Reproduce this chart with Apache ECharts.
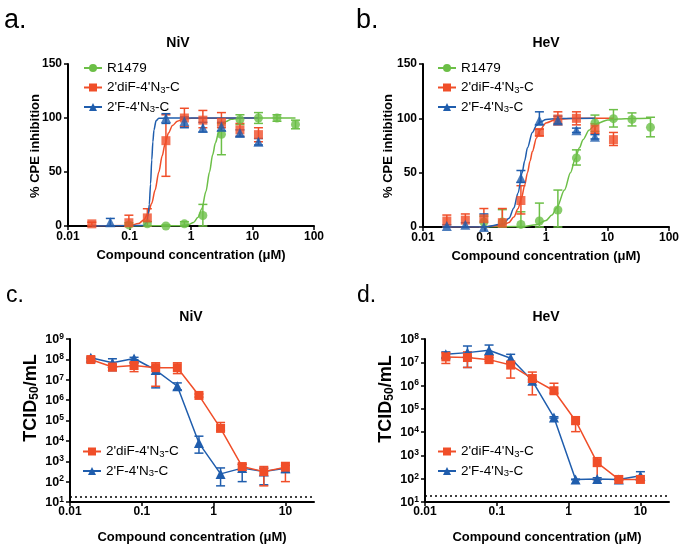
<!DOCTYPE html>
<html>
<head>
<meta charset="utf-8">
<script src="https://cdn.jsdelivr.net/npm/echarts@6/dist/echarts.min.js"></script>
<style>
  html, body { margin: 0; padding: 0; background: #fff; }
  #chart { width: 683px; height: 549px; }
</style>
</head>
<body>
<div id="chart"></div>
<script>
// NiV / HeV antiviral activity — 4 panel figure
var FONT = '"Liberation Sans", Arial, sans-serif';
var GREEN = '#6cbf47', RED = '#f04e29', BLUE = '#1f5dad';
var NAME_R = 'R1479', NAME_DIF = "2'diF-4'N3-C", NAME_F = "2'F-4'N3-C";

// ---- panel a/b: % CPE inhibition, points as [dose µM, mean, low, high]
var nivCPE_R1479 = [[0.0977,1,0,3],[0.195,2,0,4],[0.391,0,0,1],[0.781,2,0,4],[1.56,9.7,0,20],[3.125,85,66,95],[6.25,98.5,94,103],[12.5,100,95,105],[25,100,97,103],[50,94,90,98]];
var nivCPE_diF = [[0.0244,2,0.5,3.5],[0.0977,3,0,10],[0.195,7.5,0,16],[0.391,79,46,103],[0.781,100,92,109],[1.56,98,91,107],[3.125,96,91,105],[6.25,89,83,95],[12.5,84.6,78,91]];
var nivCPE_F = [[0.0488,3.5,0,7],[0.391,100,95,104],[0.781,97,91,101],[1.56,91,87,96],[3.125,92,88,96],[6.25,86,83,89],[12.5,78,75,81]];

var hevCPE_R1479 = [[0.0977,4.5,0,10],[0.195,4.5,0,16],[0.391,2.4,0,14],[0.781,5.5,0,22],[1.56,15.6,0,34],[3.125,63.6,57,71],[6.25,95.8,88,103],[12.5,99.7,92,108],[25,99,93,105],[50,91.7,83,101]];
var hevCPE_diF = [[0.0244,5.5,0,11],[0.0488,6.3,0,12],[0.0977,7.6,0,17],[0.195,4,0,17],[0.391,24.4,12,38],[0.781,87,84,90],[1.56,99.4,94,106],[3.125,100,94,106],[6.25,90,86,95],[12.5,80.4,75,87]];
var hevCPE_F = [[0.0244,1,0,2],[0.0488,2,0,4],[0.0977,0,0,12],[0.391,45,41,52],[0.781,98,94,106],[1.56,98,95,102],[3.125,89,87,91],[6.25,83,81,85]];

// fitted dose-response curves as [dose, %]
var nivFit_R1479 = [[0.0977,0],[0.6,0.2],[0.9,1.2],[1.1,3.3],[1.3,8],[1.5,16],[1.75,32],[2,50],[2.25,66],[2.5,77],[2.8,86],[3.2,93],[3.7,96.8],[4.5,98.9],[6,99.8],[10,100],[50,100]];
var nivFit_diF = [[0.0244,0],[0.1,0.4],[0.14,2.2],[0.17,5.5],[0.2,11.6],[0.23,21],[0.26,33],[0.3,50],[0.34,65],[0.38,76.5],[0.43,86],[0.5,93],[0.6,97],[0.75,99],[1,99.8],[12.5,100]];
var nivFit_F = [[0.0244,0],[0.17,0.4],[0.19,3.3],[0.2,8.7],[0.21,20],[0.22,39],[0.23,61],[0.24,78],[0.25,89],[0.27,97.4],[0.3,99.7],[0.4,100],[12.5,100]];
var hevFit_R1479 = [[0.0977,0],[0.4,0.4],[0.7,2.1],[1,6],[1.25,11],[1.5,17.8],[2,34],[2.5,50],[3,63],[3.5,73],[4,80.4],[5,89],[6,93],[7,95.6],[10,98.5],[15,99.5],[25,99.9],[50,100]];
var hevFit_diF = [[0.0244,0],[0.1,0.1],[0.2,1.6],[0.25,4.2],[0.3,9.1],[0.35,16.7],[0.4,26.8],[0.45,38.4],[0.5,50],[0.55,60.6],[0.6,69.4],[0.7,82],[0.8,89.2],[1,95.8],[1.5,99.3],[3,100],[12.5,100]];
var hevFit_F = [[0.0244,0],[0.1,0.1],[0.2,2.7],[0.25,8],[0.3,17.4],[0.35,31],[0.41,50],[0.45,61],[0.5,73],[0.6,87],[0.7,93.5],[0.8,96.6],[1,98.9],[1.5,99.8],[6.25,100]];

// ---- panel c/d: virus titer (TCID50/mL)
var titerDoses = [0.0195, 0.039, 0.078, 0.156, 0.3125, 0.625, 1.25, 2.5, 5, 10];
var nivTiter_diF    = [9.8e7, 4.2e7, 5.0e7, 3.9e7, 3.9e7, 1.7e6, 4.1e4, 550, 310, 510];
var nivTiter_diF_lo = [8.5e7, 2.8e7, 2.5e7, 4.8e6, 2.0e7, 1.4e6, 3.2e4, 350, 62, 100];
var nivTiter_diF_hi = [1.1e8, 5.6e7, 7.0e7, 6.8e7, 6.8e7, 2.0e6, 8.0e4, 710, 550, 870];
var nivTiter_F      = [1.2e8, 6.8e7, 1.1e8, 3.0e7, 4.8e6, 7.8e3, 240, 460, 310, 450];
var nivTiter_F_lo   = [1.07e8, 2.8e7, 9.5e7, 4.0e6, 3.2e6, 2.5e3, 62, 100, 70, 280];
var nivTiter_F_hi   = [1.3e8, 1.07e8, 1.26e8, 4.6e7, 7.0e6, 1.7e4, 470, 700, 450, 630];

var hevTiter_diF    = [1.7e7, 1.6e7, 1.3e7, 7.6e6, 2.0e6, 6.0e5, 3.1e4, 490, 93, 93];
var hevTiter_diF_lo = [8.9e6, 6.0e6, 1.1e7, 2.1e6, 4.0e5, 4.7e5, 1.05e4, 93, 85, 85];
var hevTiter_diF_hi = [2.6e7, 2.8e7, 1.6e7, 1.1e7, 3.8e6, 1.26e6, 4.6e4, 800, 100, 100];
var hevTiter_F      = [2.2e7, 2.6e7, 3.3e7, 1.5e7, 1.6e6, 4.3e4, 93, 98, 93, 135];
var hevTiter_F_lo   = [1.6e7, 6.0e6, 2.0e7, 1.0e7, 1.4e6, 4.0e4, 90, 90, 90, 95];
var hevTiter_F_hi   = [2.8e7, 5.0e7, 5.5e7, 2.2e7, 1.8e6, 4.6e4, 96, 110, 96, 200];

var lodTiter = 18; // detection limit (dotted line)

var cpeTicks = [0, 50, 100, 150];

// ---- helpers
function zip(xs, ys) { return xs.map(function(x, i) { return [x, ys[i]]; }); }
function zipErr(xs, lo, hi) { return xs.map(function(x, i) { return [x, lo[i], hi[i]]; }); }
function errOf(pts) { return pts.map(function(p) { return [p[0], p[2], p[3]]; }); }

function renderErr(params, api) {
  var x = api.value(0);
  var top = api.coord([x, api.value(2)]);
  var bot = api.coord([x, api.value(1)]);
  var hw = 4.5;
  var st = { stroke: api.visual('color'), lineWidth: 1.5 };
  return { type: 'group', children: [
    { type: 'line', shape: { x1: top[0], y1: top[1], x2: bot[0], y2: bot[1] }, style: st },
    { type: 'line', shape: { x1: top[0] - hw, y1: top[1], x2: top[0] + hw, y2: top[1] }, style: st },
    { type: 'line', shape: { x1: bot[0] - hw, y1: bot[1], x2: bot[0] + hw, y2: bot[1] }, style: st }
  ]};
}

function errSeries(data, color, gi) {
  return { type: 'custom', xAxisIndex: gi, yAxisIndex: gi, renderItem: renderErr,
    itemStyle: { color: color }, encode: { x: 0, y: [1, 2] }, data: data, z: 2, silent: true };
}

function curveSeries(name, data, color, symbol, gi) {
  return { name: name, type: 'line', xAxisIndex: gi, yAxisIndex: gi, data: data,
    symbol: symbol, showSymbol: false, smooth: 0.3, smoothMonotone: 'x',
    lineStyle: { color: color, width: 1.5 }, itemStyle: { color: color }, z: 2, silent: true };
}

function pointSeries(name, pts, color, symbol, size, gi) {
  return { name: name, type: 'scatter', xAxisIndex: gi, yAxisIndex: gi,
    data: pts.map(function(p) { return [p[0], p[1]]; }),
    symbol: symbol, symbolSize: size, itemStyle: { color: color }, z: 3 };
}

function titerSeries(name, vals, color, symbol, size, gi) {
  return { name: name, type: 'line', xAxisIndex: gi, yAxisIndex: gi, data: zip(titerDoses, vals),
    symbol: symbol, symbolSize: size, showSymbol: true,
    lineStyle: { color: color, width: 1.5 }, itemStyle: { color: color }, z: 3 };
}

function doseLabel(v) {
  return v < 1 ? v.toFixed(Math.round(-Math.log10(v))) : String(Math.round(v));
}

var axisLineStyle = { show: true, lineStyle: { color: '#000', width: 2 } };
var tickStyle = { show: true, length: 4, lineStyle: { color: '#000', width: 1.5 } };
var tickLabel = { color: '#000', fontFamily: FONT, fontWeight: 'bold', fontSize: 12 };

function doseAxis(gi, max, nameGap, margin, custom) {
  var ax = {
    type: 'log', logBase: 10, gridIndex: gi, min: 0.01, max: max,
    name: 'Compound concentration (μM)', nameLocation: 'middle', nameGap: nameGap,
    nameTextStyle: { color: '#000', fontFamily: FONT, fontWeight: 'bold', fontSize: 13 },
    axisLine: axisLineStyle, axisTick: Object.assign({}, tickStyle),
    axisLabel: Object.assign({ margin: margin, formatter: doseLabel }, tickLabel),
    splitLine: { show: false }, minorTick: { show: false }
  };
  if (custom) {
    ax.axisTick.customValues = custom;
    ax.axisLabel.customValues = custom;
  }
  return ax;
}

function cpeAxis(gi) {
  return { type: 'value', gridIndex: gi, min: cpeTicks[0], max: cpeTicks[cpeTicks.length - 1], interval: 50,
    axisLine: axisLineStyle, axisTick: tickStyle,
    axisLabel: Object.assign({ margin: 6 }, tickLabel), splitLine: { show: false } };
}

function titerAxis(gi, max) {
  return { type: 'log', logBase: 10, gridIndex: gi, min: 10, max: max,
    axisLine: axisLineStyle, axisTick: tickStyle,
    axisLabel: { margin: 6, formatter: function(v) { return '{b|10}{s|' + Math.round(Math.log10(v)) + '}'; },
      rich: {
        b: { color: '#000', fontFamily: FONT, fontWeight: 'bold', fontSize: 12.5, lineHeight: 14, verticalAlign: 'bottom' },
        s: { color: '#000', fontFamily: FONT, fontWeight: 'bold', fontSize: 8.5, lineHeight: 8, verticalAlign: 'top' }
      } },
    splitLine: { show: false }, minorTick: { show: false } };
}

var subRich = {
  sub: { fontFamily: FONT, fontSize: 9.5, lineHeight: 8, verticalAlign: 'bottom', color: '#000' }
};

function legendAt(left, top, names) {
  return { left: left, top: top, padding: 0, orient: 'vertical', itemWidth: 18, itemHeight: 10, itemGap: 4.5,
    selectedMode: false, data: names,
    formatter: function(n) { return n.replace('N3', 'N{sub|3}'); },
    textStyle: { fontFamily: FONT, fontSize: 13.5, color: '#000', lineHeight: 15, rich: subRich } };
}

function label(text, x, y, opts) {
  return Object.assign({ type: 'text', x: x, y: y, silent: true,
    style: Object.assign({ text: text, fill: '#000', font: 'bold 13px ' + FONT, align: 'center', verticalAlign: 'middle' }, opts && opts.style) },
    opts && opts.el);
}

var yNameRich = { sub: { font: 'bold 12px ' + FONT, fill: '#000', lineHeight: 12, verticalAlign: 'bottom' } };
var yNameStyle = { font: 'bold 18px ' + FONT, lineHeight: 20, rich: yNameRich };

var chart = echarts.init(document.getElementById('chart'));
chart.setOption({
  animation: false,
  backgroundColor: '#fff',
  grid: [
    { left: 68, top: 64, width: 246, height: 162 },
    { left: 423, top: 64, width: 246, height: 163 },
    { left: 70, top: 339, width: 244, height: 163 },
    { left: 425, top: 339, width: 244, height: 163 }
  ],
  xAxis: [
    doseAxis(0, 100, 23, 5),
    doseAxis(1, 100, 23, 5),
    doseAxis(2, 25, 29, 4, [0.01, 0.1, 1, 10]),
    doseAxis(3, 25, 29, 4, [0.01, 0.1, 1, 10])
  ],
  yAxis: [cpeAxis(0), cpeAxis(1), titerAxis(2, 1e9), titerAxis(3, 1e8)],
  legend: [
    legendAt(83, 60.5, [NAME_R, NAME_DIF, NAME_F]),
    legendAt(437, 60.5, [NAME_R, NAME_DIF, NAME_F]),
    legendAt(82, 444, [NAME_DIF, NAME_F]),
    legendAt(437, 444, [NAME_DIF, NAME_F])
  ],
  series: [
    // curves first so the legend icons show line + marker
    curveSeries(NAME_R, nivFit_R1479, GREEN, 'circle', 0),
    curveSeries(NAME_DIF, nivFit_diF, RED, 'rect', 0),
    curveSeries(NAME_F, nivFit_F, BLUE, 'triangle', 0),
    curveSeries(NAME_R, hevFit_R1479, GREEN, 'circle', 1),
    curveSeries(NAME_DIF, hevFit_diF, RED, 'rect', 1),
    curveSeries(NAME_F, hevFit_F, BLUE, 'triangle', 1),

    errSeries(errOf(nivCPE_R1479), GREEN, 0),
    errSeries(errOf(nivCPE_diF), RED, 0),
    errSeries(errOf(nivCPE_F), BLUE, 0),
    pointSeries(NAME_R, nivCPE_R1479, GREEN, 'circle', 9, 0),
    pointSeries(NAME_DIF, nivCPE_diF, RED, 'rect', 9, 0),
    pointSeries(NAME_F, nivCPE_F, BLUE, 'triangle', 10, 0),

    errSeries(errOf(hevCPE_R1479), GREEN, 1),
    errSeries(errOf(hevCPE_diF), RED, 1),
    errSeries(errOf(hevCPE_F), BLUE, 1),
    pointSeries(NAME_R, hevCPE_R1479, GREEN, 'circle', 9, 1),
    pointSeries(NAME_DIF, hevCPE_diF, RED, 'rect', 9, 1),
    pointSeries(NAME_F, hevCPE_F, BLUE, 'triangle', 10, 1),

    errSeries(zipErr(titerDoses, nivTiter_F_lo, nivTiter_F_hi), BLUE, 2),
    errSeries(zipErr(titerDoses, nivTiter_diF_lo, nivTiter_diF_hi), RED, 2),
    titerSeries(NAME_F, nivTiter_F, BLUE, 'triangle', 10, 2),
    Object.assign(titerSeries(NAME_DIF, nivTiter_diF, RED, 'rect', 9, 2), {
      markLine: { silent: true, symbol: 'none', label: { show: false },
        lineStyle: { color: '#000', type: [2, 3], width: 1.5 }, data: [{ yAxis: lodTiter }] }
    }),

    errSeries(zipErr(titerDoses, hevTiter_F_lo, hevTiter_F_hi), BLUE, 3),
    errSeries(zipErr(titerDoses, hevTiter_diF_lo, hevTiter_diF_hi), RED, 3),
    titerSeries(NAME_F, hevTiter_F, BLUE, 'triangle', 10, 3),
    Object.assign(titerSeries(NAME_DIF, hevTiter_diF, RED, 'rect', 9, 3), {
      markLine: { silent: true, symbol: 'none', label: { show: false },
        lineStyle: { color: '#000', type: [2, 3], width: 1.5 }, data: [{ yAxis: lodTiter }] }
    })
  ],
  graphic: [
    label('a.', 4, 34, { style: { font: '27px ' + FONT, align: 'left', verticalAlign: 'bottom' } }),
    label('b.', 356, 34, { style: { font: '27px ' + FONT, align: 'left', verticalAlign: 'bottom' } }),
    label('c.', 6, 307, { style: { font: '23px ' + FONT, align: 'left', verticalAlign: 'bottom' } }),
    label('d.', 357, 307, { style: { font: '23px ' + FONT, align: 'left', verticalAlign: 'bottom' } }),
    label('NiV', 178, 43, { style: { font: 'bold 14px ' + FONT } }),
    label('HeV', 546, 43, { style: { font: 'bold 14px ' + FONT } }),
    label('NiV', 191, 317, { style: { font: 'bold 14px ' + FONT } }),
    label('HeV', 546, 317, { style: { font: 'bold 14px ' + FONT } }),
    label('% CPE inhibition', 35, 146, { el: { rotation: Math.PI / 2 } }),
    label('% CPE inhibition', 388, 146, { el: { rotation: Math.PI / 2 } }),
    label('TCID{sub|50}/mL', 31, 398, { el: { rotation: Math.PI / 2 }, style: yNameStyle }),
    label('TCID{sub|50}/mL', 386, 399, { el: { rotation: Math.PI / 2 }, style: yNameStyle })
  ]
});
</script>
</body>
</html>
